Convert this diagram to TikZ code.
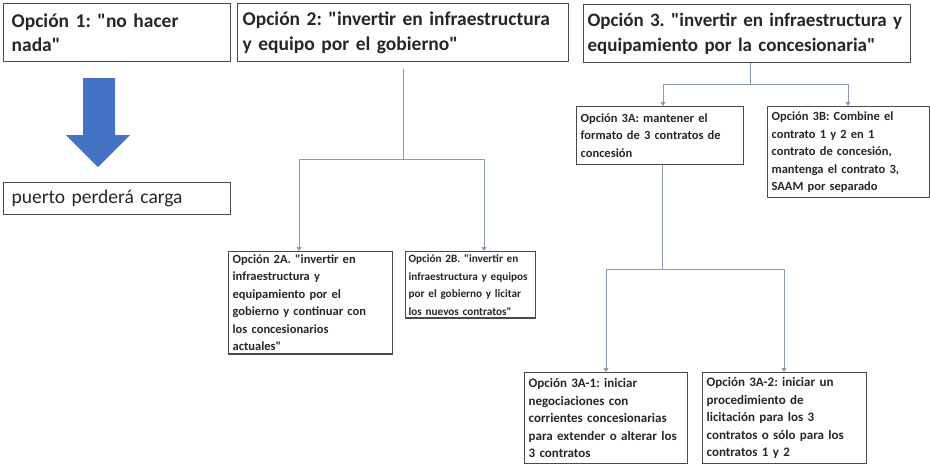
\documentclass[tikz,border=0pt]{standalone}
\usepackage{fontspec}
\setmainfont{Carlito}[Ligatures=TeXOff]
\usetikzlibrary{arrows.meta}
\frenchspacing

\definecolor{boxgray}{HTML}{4A4A4A}
\definecolor{wiregray}{HTML}{8A9AB5}
\definecolor{arrowblue}{HTML}{4472C4}
\definecolor{inkgray}{HTML}{262626}

\tikzset{
  titlebox/.style={draw=boxgray, line width=1.3pt, anchor=north west, align=left,
    text=inkgray, inner xsep=5pt, inner ysep=3pt,
    font=\bfseries\fontsize{19.5}{24.5}\selectfont},
  optbox/.style={draw=boxgray, line width=1.3pt, anchor=north west, align=left,
    text=inkgray, inner xsep=4pt, inner ysep=3pt,
    font=\bfseries\fontsize{12.5}{17.5}\selectfont},
  wire/.style={draw=wiregray, line width=0.8pt},
  link/.style={wire, -{Triangle[length=4pt,width=5pt]}}
}

\begin{document}
\begin{tikzpicture}[x=1pt, y=-1pt]
  \useasboundingbox (0,0) rectangle (930,466);
  % tres opciones
  \node[titlebox, inner xsep=8pt, text width=211pt, minimum height=58pt] (b1) at (3,3)
    {Opción 1: "no hacer\\ nada"};
  \node[titlebox, text width=321pt, minimum height=58pt] (b2) at (237,3)
    {Opción 2: "invertir en infraestructura\\ y equipo por el gobierno"};
  \node[titlebox, font=\bfseries\fontsize{19}{24.5}\selectfont, inner xsep=4pt,
    text width=319pt, minimum height=58pt] (b3) at (583,4)
    {Opción 3. "invertir en infraestructura y\\ equipamiento por la concesionaria"};
  % opcion 1
  \fill[arrowblue] (83,78) -- (115,78) -- (115,135) -- (130,135) -- (98,167)
    -- (66,135) -- (83,135) -- cycle;
  \node[titlebox, font=\fontsize{19.5}{22}\selectfont, inner xsep=8pt, text width=211pt,
    minimum height=32pt] (res) at (3,182)
    {puerto perderá carga};
  % opcion 2
  \node[optbox, text width=156pt] (o2a) at (228,251)
    {Opción 2A. "invertir en\\ infraestructura y\\ equipamiento por el\\ gobierno y continuar con\\ los concesionarios\\ actuales"};
  \node[optbox, font=\bfseries\fontsize{11.2}{17.5}\selectfont, inner xsep=3pt,
    text width=124pt] (o2b) at (405,251)
    {Opción 2B. "invertir en\\ infraestructura y equipos\\ por el gobierno y licitar\\ los nuevos contratos"};
  % opcion 3
  \node[optbox, text width=159pt, minimum height=58pt] (o3a) at (576,106)
    {Opción 3A: mantener el\\ formato de 3 contratos de\\ concesión};
  \node[optbox, text width=154pt, minimum height=91pt] (o3b) at (767,106)
    {Opción 3B: Combine el\\ contrato 1 y 2 en 1\\ contrato de concesión,\\ mantenga el contrato 3,\\ SAAM por separado};
  \node[optbox, font=\bfseries\fontsize{13}{17.5}\selectfont, text width=155pt,
    minimum height=91pt] (o3a1) at (524,372)
    {Opción 3A-1: iniciar\\ negociaciones con\\ corrientes concesionarias\\ para extender o alterar los\\ 3 contratos};
  \node[optbox, font=\bfseries\fontsize{13}{17.5}\selectfont, text width=156pt,
    minimum height=91pt] (o3a2) at (702,372)
    {Opción 3A-2: iniciar un\\ procedimiento de\\ licitación para los 3\\ contratos o sólo para los\\ contratos 1 y 2};

  % conectores
  \coordinate (j2) at (403,159);
  \coordinate (j2a) at (299,159);
  \coordinate (j2b) at (484,159);
  \draw[wire] (j2 |- b2.south) ++(0,7) -- (j2);
  \draw[wire] (j2a) -- (j2b);
  \draw[link] (j2a) -- (j2a |- o2a.north);
  \draw[link] (j2b) -- (j2b |- o2b.north);

  \coordinate (j3) at (750,84);
  \coordinate (j3a) at (663,84);
  \coordinate (j3b) at (848,84);
  \draw[wire] (j3 |- b3.south) -- (j3);
  \draw[wire] (j3a) -- (j3b);
  \draw[link] (j3a) -- (j3a |- o3a.north);
  \draw[link] (j3b) -- (j3b |- o3b.north);

  \coordinate (k3) at (662,269);
  \coordinate (k3a) at (606,269);
  \coordinate (k3b) at (784,269);
  \draw[wire] (k3 |- o3a.south) -- (k3);
  \draw[wire] (k3a) -- (k3b);
  \draw[link] (k3a) -- (k3a |- o3a1.north);
  \draw[link] (k3b) -- (k3b |- o3a2.north);
\end{tikzpicture}
\end{document}
